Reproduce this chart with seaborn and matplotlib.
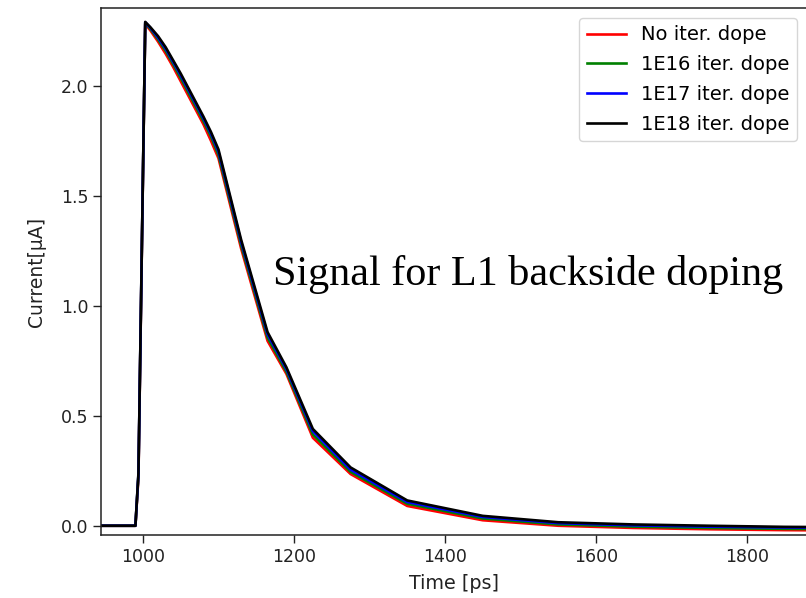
import matplotlib
matplotlib.use("Agg")
import matplotlib.pyplot as plt
import pandas as pd
import seaborn as sns

# time axis shared by all runs [ps]
time_ps = [940, 990, 994, 1003, 1010, 1020, 1030, 1040, 1050, 1060, 1070, 1080,
           1090, 1100, 1130, 1165, 1190, 1225, 1275, 1350, 1450, 1550, 1650,
           1750, 1850, 1950]

# current [uA] for each iteration doping
no_dope = [0, 0, 0.22, 2.28, 2.25, 2.20, 2.145, 2.085, 2.02, 1.955, 1.89, 1.825,
           1.75, 1.67, 1.26, 0.84, 0.69, 0.40, 0.235, 0.09, 0.025, 0.0, -0.01,
           -0.016, -0.02, -0.022]
dope_1e16 = [0, 0, 0.23, 2.285, 2.257, 2.21, 2.158, 2.098, 2.035, 1.97, 1.905, 1.84,
             1.77, 1.685, 1.275, 0.855, 0.70, 0.415, 0.245, 0.10, 0.033, 0.006, -0.004,
             -0.01, -0.014, -0.016]
dope_1e17 = [0, 0, 0.235, 2.288, 2.262, 2.218, 2.168, 2.108, 2.047, 1.982, 1.917, 1.852,
             1.782, 1.70, 1.29, 0.87, 0.712, 0.43, 0.255, 0.108, 0.04, 0.012, 0.002,
             -0.004, -0.008, -0.01]
dope_1e18 = [0, 0, 0.24, 2.29, 2.265, 2.225, 2.175, 2.115, 2.055, 1.99, 1.925, 1.86,
             1.79, 1.71, 1.30, 0.88, 0.72, 0.44, 0.265, 0.115, 0.045, 0.016, 0.006,
             0.0, -0.005, -0.007]

labels = ["No iter. dope", "1E16 iter. dope", "1E17 iter. dope", "1E18 iter. dope"]
colors = ["red", "green", "blue", "black"]

frames = []
for label, vals in zip(labels, [no_dope, dope_1e16, dope_1e17, dope_1e18]):
    frames.append(pd.DataFrame({"time": time_ps, "current": vals, "run": label}))
df = pd.concat(frames, ignore_index=True)

fig = plt.figure(figsize=(8.06, 5.98), dpi=100)
ax = fig.add_axes([101 / 806, 1 - 535 / 598, 706 / 806, 527 / 598])

sns.lineplot(data=df, x="time", y="current", hue="run", palette=colors,
             estimator=None, sort=False, linewidth=1.9, ax=ax)

ax.set_xlim(944.4, 1879.5)
ax.set_ylim(-0.042, 2.353)
ax.set_xticks([1000, 1200, 1400, 1600, 1800])
ax.set_yticks([0.0, 0.5, 1.0, 1.5, 2.0])
ax.tick_params(labelsize=12.5, length=5.5, width=1.0, colors="#222222")
ax.set_xlabel("Time [ps]", fontsize=13.8, labelpad=6, color="#222222")
ax.set_ylabel("Current[μA]", fontsize=13.5, labelpad=11, color="#222222")
for s in ax.spines.values():
    s.set_linewidth(1.1)
    s.set_color("#222222")

leg = ax.legend(title=None, loc="upper right", fontsize=14, labelspacing=0.55)

# annotation sits in data coordinates, roughly centred on the right half
ax.text(1510, 1.14, "Signal for L1 backside doping", family="Liberation Serif",
        fontsize=30.3, ha="center", va="center")

fig.savefig("out.png", dpi=100)
